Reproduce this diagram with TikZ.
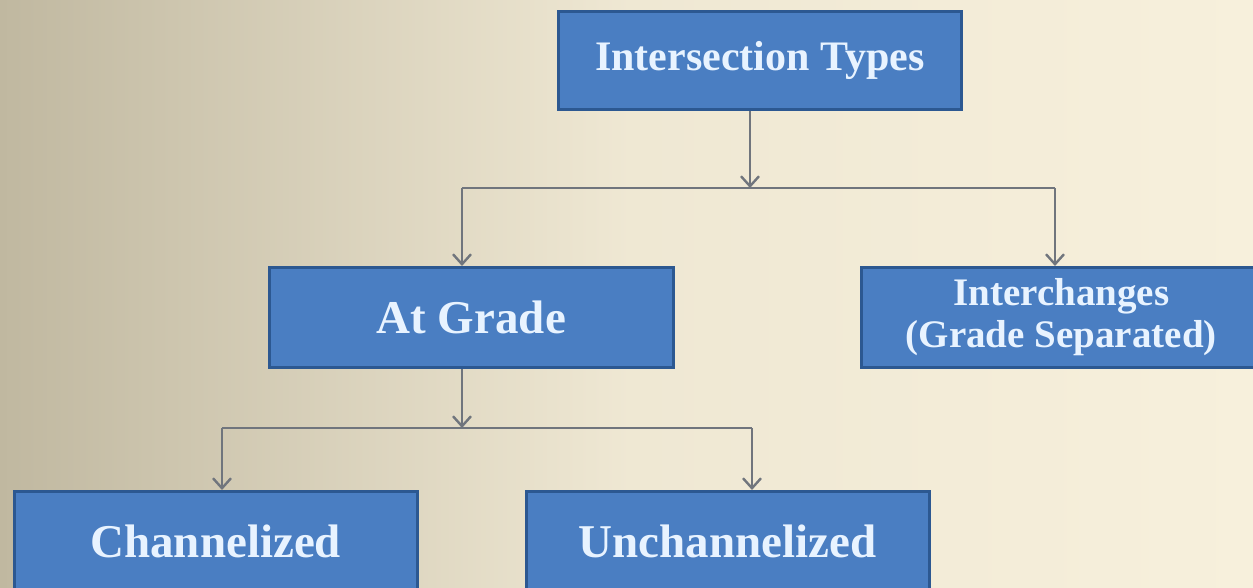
\documentclass[tikz,border=0pt]{standalone}
\usepackage{fontspec}
\setmainfont{Liberation Serif}
\usetikzlibrary{arrows.meta}
\definecolor{boxfill}{RGB}{74,126,194}
\definecolor{boxline}{RGB}{44,88,145}
\definecolor{boxtext}{RGB}{232,243,255}
\definecolor{conn}{RGB}{112,117,125}
\definecolor{bgleft}{RGB}{192,184,160}
\definecolor{bgright}{RGB}{247,240,220}
\tikzset{
  box/.style={draw=boxline, line width=2.5pt, fill=boxfill, text=boxtext,
    font=\bfseries\fontsize{47}{47}\selectfont, inner sep=0pt, anchor=north west},
  conn/.style={draw=conn, line width=2.6pt},
  arr/.style={conn, -{Straight Barb[length=10pt,width=18pt,line width=2.4pt]}}
}
\begin{document}
\begin{tikzpicture}[x=1pt,y=-1pt]
\shade[left color=bgleft, right color=bgright, middle color=bgright!85!bgleft] (0,0) rectangle (1253,587);
\useasboundingbox (0,0) rectangle (1253,587);
% boxes
\node[box, minimum width=403pt, minimum height=98pt, font=\bfseries\fontsize{42}{42}\selectfont] (types) at (557,10) {Intersection Types};
\node[box, minimum width=404pt, minimum height=100pt] (grade) at (268,266) {At Grade};
\node[box, minimum width=400pt, minimum height=100pt, align=center,
  font=\bfseries\fontsize{39}{42}\selectfont] (inter) at (860,266) {Interchanges\\(Grade Separated)};
\node[box, minimum width=403pt, minimum height=100pt] (chan) at (13,490) {Channelized};
\node[box, minimum width=403pt, minimum height=100pt] (unchan) at (525,490) {Unchannelized};
% connectors
\coordinate (j1) at (750,188);
\coordinate (j1l) at (462,188);
\coordinate (j1r) at (1055,188);
\draw[arr] (types.south -| j1) -- (j1);
\draw[conn] (j1l) -- (j1r);
\draw[arr] (j1l) -- (j1l |- grade.north);
\draw[arr] (j1r) -- (j1r |- inter.north);
\coordinate (j2) at (462,428);
\coordinate (j2l) at (222,428);
\coordinate (j2r) at (752,428);
\draw[arr] (grade.south -| j2) -- (j2);
\draw[conn] (j2l) -- (j2r);
\draw[arr] (j2l) -- (j2l |- chan.north);
\draw[arr] (j2r) -- (j2r |- unchan.north);
\end{tikzpicture}
\end{document}
